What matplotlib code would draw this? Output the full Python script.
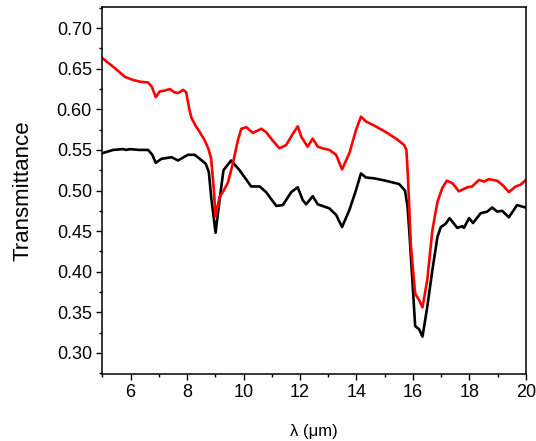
import numpy as np
import matplotlib
matplotlib.use("Agg")
import matplotlib.pyplot as plt
from matplotlib.ticker import MultipleLocator

plt.rcParams['font.family'] = ['Liberation Sans', 'DejaVu Sans']

# red curve
red_x = [5.0, 5.4, 5.8, 6.1, 6.35, 6.62, 6.75, 6.89, 7.03, 7.2, 7.39, 7.55, 7.68, 7.86, 7.97,
         8.08, 8.15, 8.3, 8.45, 8.62, 8.75, 8.85, 8.95, 9.01, 9.08, 9.15, 9.3, 9.45, 9.62, 9.8,
         9.92, 10.1, 10.33, 10.63, 10.8, 11.0, 11.27, 11.51, 11.75, 11.92, 12.05, 12.27, 12.45,
         12.63, 12.8, 13.04, 13.28, 13.49, 13.75, 13.98, 14.16, 14.34, 14.63, 15.04, 15.4, 15.69,
         15.77, 15.82, 15.93, 16.08, 16.22, 16.34, 16.51, 16.69, 16.87, 17.04, 17.2, 17.4, 17.63,
         17.93, 18.1, 18.34, 18.52, 18.69, 18.99, 19.2, 19.4, 19.64, 19.81, 20.0]
red_y = [0.663, 0.652, 0.640, 0.636, 0.634, 0.633, 0.628, 0.615, 0.622, 0.623, 0.625, 0.621,
         0.620, 0.624, 0.621, 0.600, 0.590, 0.580, 0.572, 0.562, 0.552, 0.540, 0.500, 0.468,
         0.480, 0.492, 0.500, 0.510, 0.533, 0.562, 0.576, 0.578, 0.571, 0.576, 0.572, 0.563,
         0.552, 0.556, 0.570, 0.579, 0.566, 0.554, 0.564, 0.554, 0.552, 0.550, 0.544, 0.526,
         0.546, 0.574, 0.591, 0.585, 0.580, 0.572, 0.564, 0.556, 0.550, 0.520, 0.431, 0.373,
         0.365, 0.356, 0.390, 0.451, 0.486, 0.503, 0.512, 0.509, 0.499, 0.504, 0.505, 0.513,
         0.511, 0.514, 0.512, 0.506, 0.498, 0.505, 0.507, 0.513]

# black curve
black_x = [5.0, 5.38, 5.73, 5.85, 5.97, 6.3, 6.62, 6.77, 6.89, 7.09, 7.45, 7.68, 8.03, 8.27,
           8.45, 8.66, 8.77, 8.86, 9.01, 9.15, 9.29, 9.56, 9.86, 10.27, 10.57, 10.8, 11.16,
           11.39, 11.69, 11.92, 12.1, 12.22, 12.45, 12.63, 13.04, 13.28, 13.49, 13.75, 13.98,
           14.16, 14.34, 14.63, 15.04, 15.51, 15.72, 15.81, 15.87, 15.98, 16.08, 16.22, 16.34,
           16.51, 16.69, 16.87, 16.99, 17.16, 17.3, 17.57, 17.75, 17.81, 17.99, 18.13, 18.4,
           18.63, 18.81, 18.99, 19.16, 19.4, 19.69, 20.0]
black_y = [0.546, 0.550, 0.551, 0.550, 0.551, 0.550, 0.550, 0.544, 0.534, 0.539, 0.541, 0.537,
           0.544, 0.544, 0.539, 0.533, 0.523, 0.490, 0.448, 0.488, 0.525, 0.537, 0.525, 0.505,
           0.505, 0.498, 0.481, 0.482, 0.498, 0.504, 0.488, 0.483, 0.493, 0.483, 0.478, 0.470,
           0.455, 0.476, 0.500, 0.521, 0.516, 0.515, 0.512, 0.508, 0.500, 0.480, 0.451, 0.390,
           0.333, 0.329, 0.320, 0.357, 0.402, 0.443, 0.455, 0.459, 0.466, 0.454, 0.456, 0.454,
           0.466, 0.460, 0.472, 0.474, 0.479, 0.474, 0.475, 0.467, 0.482, 0.479]

fig = plt.figure(figsize=(5.36, 4.41), dpi=100)
ax = fig.add_axes([0.191, 0.152, 0.790, 0.832])

ax.plot(black_x, black_y, color="black", lw=1.9)
ax.plot(red_x, red_y, color="#ff0000", lw=1.9)

ax.set_xlim(5, 20)
ax.set_ylim(0.274, 0.726)
ax.xaxis.set_major_locator(MultipleLocator(2))
ax.xaxis.set_minor_locator(MultipleLocator(1))
ax.yaxis.set_major_locator(MultipleLocator(0.05))
ax.yaxis.set_minor_locator(MultipleLocator(0.025))
ax.yaxis.set_major_formatter(matplotlib.ticker.FormatStrFormatter("%.2f"))
ax.set_xticks([6, 8, 10, 12, 14, 16, 18, 20])

ax.tick_params(which="major", direction="out", length=4, width=1, labelsize=13)
ax.tick_params(which="minor", direction="out", length=2.5, width=1)
for s in ax.spines.values():
    s.set_linewidth(1.1)

ax.set_xlabel("λ (μm)", fontsize=12, labelpad=16)
ax.set_ylabel("Transmittance", fontsize=16, labelpad=17)

fig.savefig("out.png", dpi=100)
